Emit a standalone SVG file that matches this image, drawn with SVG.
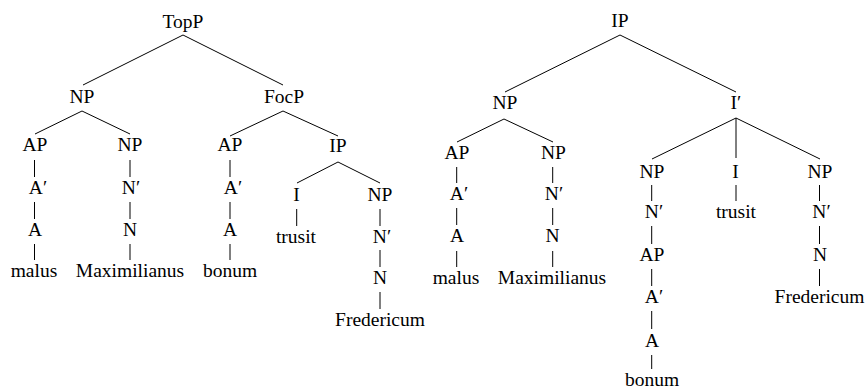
<svg xmlns="http://www.w3.org/2000/svg" width="865" height="389" viewBox="0 0 865 389">
<style>
text{font-family:"Liberation Serif","Nimbus Roman","Nimbus Roman No9 L","Tinos","Times New Roman","Times","Noto Serif","DejaVu Serif","FreeSerif",serif;font-size:19.5px;fill:#000;text-anchor:middle}
.e line{stroke:#000;stroke-width:1}
</style>
<rect width="865" height="389" fill="#fff"/>
<g class="e" id="connectors">
<line x1="183" y1="35" x2="83" y2="85"/>
<line x1="183" y1="35" x2="283" y2="85"/>
<line x1="82" y1="111" x2="35" y2="134"/>
<line x1="82" y1="111" x2="130" y2="134"/>
<line x1="283" y1="111" x2="230" y2="136"/>
<line x1="283" y1="111" x2="338" y2="136"/>
<line x1="338" y1="162" x2="297" y2="183"/>
<line x1="338" y1="162" x2="380" y2="183"/>
<line x1="34.5" y1="160" x2="34.5" y2="177"/>
<line x1="34.5" y1="202" x2="34.5" y2="219"/>
<line x1="34.5" y1="244" x2="34.5" y2="260"/>
<line x1="130" y1="160" x2="130" y2="177"/>
<line x1="130" y1="202" x2="130" y2="219"/>
<line x1="130" y1="244" x2="130" y2="260"/>
<line x1="230" y1="160" x2="230" y2="177"/>
<line x1="230" y1="202" x2="230" y2="219"/>
<line x1="230" y1="244" x2="230" y2="260"/>
<line x1="296.7" y1="209" x2="296.7" y2="226"/>
<line x1="380" y1="209" x2="380" y2="226"/>
<line x1="380" y1="250" x2="380" y2="267"/>
<line x1="380" y1="292" x2="380" y2="309"/>
<line x1="620" y1="35" x2="505" y2="92"/>
<line x1="620" y1="35" x2="736" y2="92"/>
<line x1="504" y1="119" x2="457" y2="142"/>
<line x1="504" y1="119" x2="553" y2="142"/>
<line x1="736" y1="118" x2="652" y2="159"/>
<line x1="736" y1="118" x2="736" y2="158"/>
<line x1="736" y1="118" x2="820" y2="159"/>
<line x1="456.7" y1="167" x2="456.7" y2="183"/>
<line x1="456.7" y1="208" x2="456.7" y2="225"/>
<line x1="456.7" y1="251" x2="456.7" y2="267"/>
<line x1="552.7" y1="167" x2="552.7" y2="183"/>
<line x1="552.7" y1="208" x2="552.7" y2="225"/>
<line x1="552.7" y1="251" x2="552.7" y2="267"/>
<line x1="651.7" y1="185" x2="651.7" y2="201"/>
<line x1="651.7" y1="226" x2="651.7" y2="244"/>
<line x1="651.7" y1="269" x2="651.7" y2="286"/>
<line x1="651.7" y1="311" x2="651.7" y2="329"/>
<line x1="651.7" y1="355" x2="651.7" y2="369"/>
<line x1="736" y1="185" x2="736" y2="201"/>
<line x1="819.5" y1="185" x2="819.5" y2="201"/>
<line x1="819.5" y1="226" x2="819.5" y2="244"/>
<line x1="819.5" y1="269" x2="819.5" y2="286"/>
</g>
<g id="L-TopP"><text x="183" y="27.5">TopP</text></g>
<g id="L-NP"><text x="82" y="103">NP</text></g>
<g id="L-FocP"><text x="284" y="103">FocP</text></g>
<g id="L-AP1"><text x="35" y="151">AP</text></g>
<g id="L-NP2"><text x="130" y="151">NP</text></g>
<g id="L-AP2"><text x="230" y="151">AP</text></g>
<g id="L-IP"><text x="338" y="152">IP</text></g>
<g id="L-A1bar"><text x="38" y="194">A′</text></g>
<g id="L-N2bar"><text x="131" y="194">N′</text></g>
<g id="L-A2bar"><text x="233" y="194">A′</text></g>
<g id="L-I"><text x="296.5" y="201">I</text></g>
<g id="L-NP3"><text x="380" y="201">NP</text></g>
<g id="L-A1"><text x="35" y="236">A</text></g>
<g id="L-N2"><text x="130" y="236">N</text></g>
<g id="L-A2"><text x="230" y="236">A</text></g>
<g id="L-trusit"><text x="296" y="243">trusit</text></g>
<g id="L-N3bar"><text x="382" y="243">N′</text></g>
<g id="L-malus"><text x="34" y="277">malus</text></g>
<g id="L-Maximilianus"><text x="130" y="277">Maximilianus</text></g>
<g id="L-bonum"><text x="230" y="277">bonum</text></g>
<g id="L-N3"><text x="380" y="284">N</text></g>
<g id="L-Fredericum"><text x="380" y="326">Fredericum</text></g>
<g id="R-IP"><text x="620" y="27">IP</text></g>
<g id="R-NP"><text x="505" y="109">NP</text></g>
<g id="R-Ibar"><text x="736" y="109">I′</text></g>
<g id="R-AP"><text x="457" y="159">AP</text></g>
<g id="R-NP2"><text x="553.5" y="159">NP</text></g>
<g id="R-NP3"><text x="652" y="178">NP</text></g>
<g id="R-I"><text x="735.5" y="178">I</text></g>
<g id="R-NP4"><text x="820" y="178">NP</text></g>
<g id="R-Abar"><text x="459" y="200">A′</text></g>
<g id="R-N2bar"><text x="554" y="200">N′</text></g>
<g id="R-N3bar"><text x="654" y="218">N′</text></g>
<g id="R-trusit"><text x="736" y="218">trusit</text></g>
<g id="R-N4bar"><text x="821.5" y="218">N′</text></g>
<g id="R-A"><text x="457" y="242">A</text></g>
<g id="R-N2"><text x="552.5" y="242">N</text></g>
<g id="R-AP3"><text x="652" y="261">AP</text></g>
<g id="R-N4"><text x="820" y="261">N</text></g>
<g id="R-malus"><text x="456" y="284">malus</text></g>
<g id="R-Maximilianus"><text x="552" y="284">Maximilianus</text></g>
<g id="R-A3bar"><text x="654" y="303">A′</text></g>
<g id="R-Fredericum"><text x="819.5" y="303">Fredericum</text></g>
<g id="R-A3"><text x="652" y="347">A</text></g>
<g id="R-bonum"><text x="652" y="385.5">bonum</text></g>
</svg>
